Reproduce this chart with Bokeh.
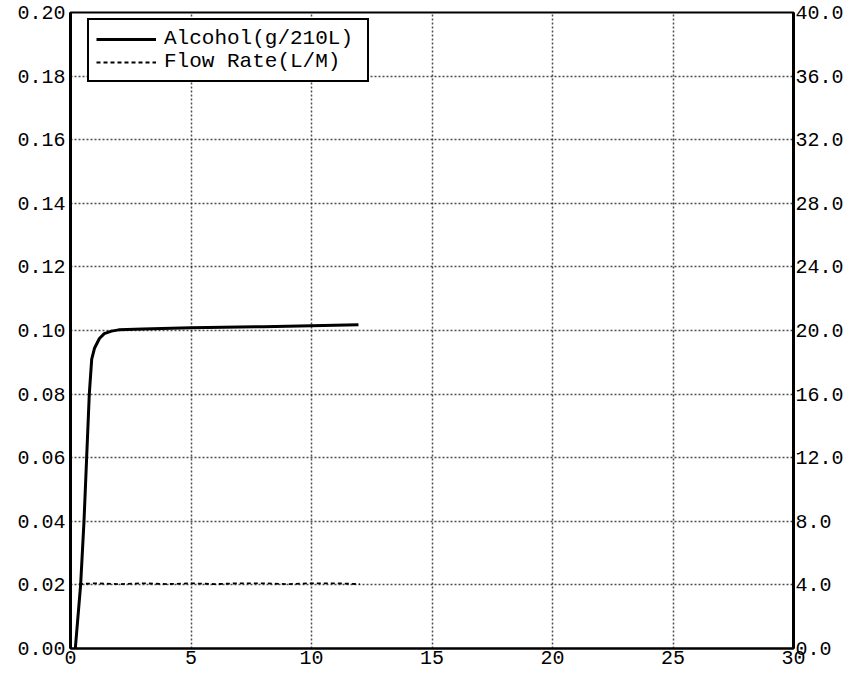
from bokeh.plotting import figure
from bokeh.models import Range1d, LinearAxis, FixedTicker, PrintfTickFormatter, Legend, LegendItem
from bokeh.embed import file_html
from bokeh.resources import INLINE

# ---- data ----
alcohol_time = [0.15, 0.2, 0.42, 0.56, 0.67, 0.78, 0.88, 1.0, 1.2, 1.4, 1.7, 2.0, 3.0, 5.0, 8.0, 10.0, 11.95]
alcohol_g210l = [0.0, 0.0, 0.02, 0.04, 0.06, 0.08, 0.091, 0.0945, 0.0975, 0.099, 0.0998, 0.1002, 0.1005, 0.1009, 0.1012, 0.1015, 0.1018]

flow_time = [0.35, 1.0, 2.0, 3.0, 4.0, 5.0, 6.0, 7.0, 8.0, 9.0, 10.0, 11.0, 12.0]
flow_rate = [4.05, 4.1, 4.05, 4.1, 4.05, 4.1, 4.05, 4.1, 4.1, 4.05, 4.1, 4.1, 4.05]

x_ticks = [0, 5, 10, 15, 20, 25, 30]
left_ticks = [0.0, 0.02, 0.04, 0.06, 0.08, 0.10, 0.12, 0.14, 0.16, 0.18, 0.20]
right_ticks = [0.0, 4.0, 8.0, 12.0, 16.0, 20.0, 24.0, 28.0, 32.0, 36.0, 40.0]

FONT = "Liberation Mono"

p = figure(width=846, height=677, output_backend="svg", toolbar_location=None,
           x_range=Range1d(0, 30), y_range=Range1d(0, 0.20),
           min_border_left=70, min_border_right=53, min_border_top=12, min_border_bottom=29,
           background_fill_color="white", border_fill_color="white")
p.extra_y_ranges = {"flow": Range1d(0, 40)}

p.outline_line_color = "black"
p.outline_line_width = 2

# axes
p.xaxis.ticker = FixedTicker(ticks=x_ticks)
p.yaxis.ticker = FixedTicker(ticks=left_ticks)
p.yaxis.formatter = PrintfTickFormatter(format="%.2f")

right = LinearAxis(y_range_name="flow", ticker=FixedTicker(ticks=right_ticks),
                   formatter=PrintfTickFormatter(format="%.1f"))
p.add_layout(right, "right")

for ax in [p.xaxis[0], p.yaxis[0], right]:
    ax.axis_line_color = "black"
    ax.major_tick_in = 0
    ax.major_tick_out = 0
    ax.minor_tick_in = 0
    ax.minor_tick_out = 0
    ax.major_label_text_font = FONT
    ax.major_label_text_color = "black"
    ax.major_label_text_font_size = "20px"
p.xaxis.axis_line_width = 2
p.xaxis.major_label_standoff = 2
p.yaxis[0].axis_line_width = 3
p.yaxis[0].major_label_standoff = 5
right.axis_line_width = 3
right.major_label_standoff = 2

# grid
for g in [p.xgrid[0], p.ygrid[0]]:
    g.grid_line_color = "#222222"
    g.grid_line_dash = "2 2"
    g.grid_line_width = 1.5
    g.grid_line_alpha = 0.8

# series
r_alc = p.line(alcohol_time, alcohol_g210l, line_color="black", line_width=3)
r_flow = p.line(flow_time, flow_rate, y_range_name="flow", line_color="black",
                line_width=1.8, line_dash="4 3")

legend = Legend(items=[LegendItem(label="Alcohol(g/210L)", renderers=[r_alc]),
                       LegendItem(label="Flow Rate(L/M)", renderers=[r_flow])],
                location=(17, 566))
legend.label_text_font = FONT
legend.label_text_font_size = "21px"
legend.label_text_color = "black"
legend.glyph_width = 60
legend.glyph_height = 20
legend.label_height = 20
legend.label_width = 196
legend.label_standoff = 8
legend.spacing = 0
legend.padding = 7
legend.margin = 0
legend.border_line_color = "black"
legend.border_line_alpha = 1.0
legend.border_line_width = 2
legend.background_fill_color = "white"
legend.background_fill_alpha = 1.0
p.add_layout(legend)

open("out.html", "w").write(file_html(p, INLINE))
